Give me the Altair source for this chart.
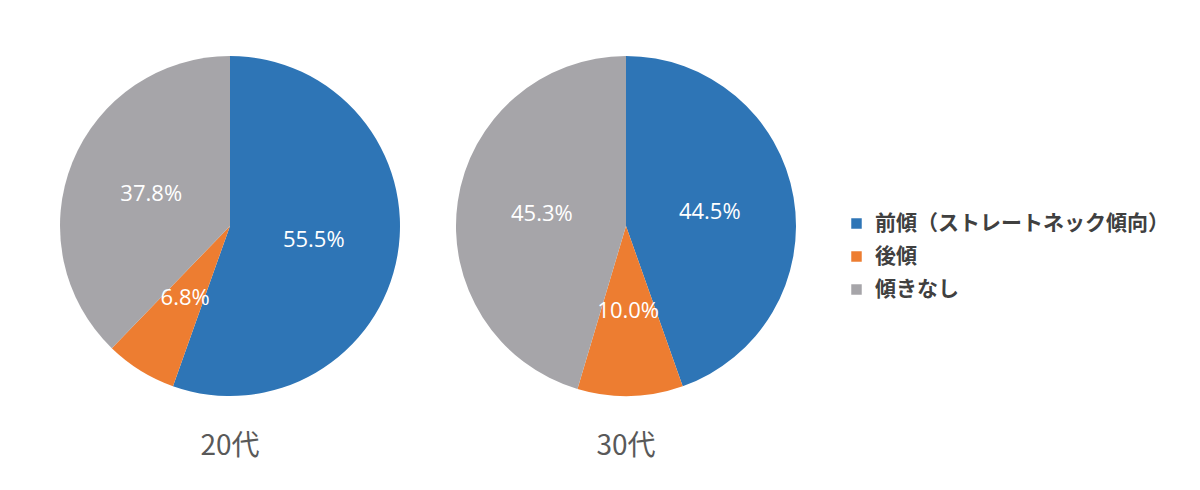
import altair as alt
import pandas as pd

groups = ["20代", "30代"]
categories = ["前傾（ストレートネック傾向）", "後傾", "傾きなし"]
values_20 = [55.5, 6.8, 37.8]
values_30 = [44.5, 10.0, 45.3]
colors = ["#2E75B6", "#ED7D31", "#A6A5A9"]
centers = [222, 618]

rows = []
for g, vals in zip(groups, [values_20, values_30]):
    for i, (c, v) in enumerate(zip(categories, vals)):
        rows.append({"group": g, "category": c, "value": v, "order": i, "label": f"{v:.1f}%"})
df = pd.DataFrame(rows)
titles = pd.DataFrame({"group": groups})

xscale = alt.Scale(type="point", domain=groups, range=centers, padding=0)
color = alt.Color(
    "category:N",
    scale=alt.Scale(domain=categories, range=colors),
    legend=alt.Legend(
        title=None, orient="none", legendX=838, legendY=205,
        symbolType="square", symbolSize=110, symbolStrokeWidth=0,
        labelFont="Noto Sans CJK JP", labelFontSize=21, labelFontWeight="bold",
        labelColor="#404040", labelOffset=8, rowPadding=11, labelLimit=400,
    ),
)

layers = []
for g in groups:
    sub = alt.Chart(df).transform_filter(alt.datum.group == g)
    arc = sub.mark_arc(outerRadius=170).encode(
        theta=alt.Theta("value:Q", stack="normalize"),
        color=color,
        order=alt.Order("order:Q"),
        x=alt.X("group:N", scale=xscale, axis=None),
        y=alt.value(218),
    )
    txt = sub.mark_text(radius=85, font="Open Sans", fontSize=22, color="white").encode(
        theta=alt.Theta("value:Q", stack="normalize"),
        order=alt.Order("order:Q"),
        text="label:N",
        x=alt.X("group:N", scale=xscale, axis=None),
        y=alt.value(218),
    )
    layers += [arc, txt]

title_layer = alt.Chart(titles).mark_text(
    font="Noto Sans CJK JP", fontSize=28, color="#595959", baseline="middle"
).encode(
    x=alt.X("group:N", scale=xscale, axis=None),
    y=alt.value(439),
    text="group:N",
)
layers.append(title_layer)

chart = alt.layer(*layers).properties(
    width=1184, height=474, autosize=alt.AutoSizeParams(type="none"), padding=0,
    background="white",
).configure_view(stroke=None)

chart.save("out.html", embed_options={"renderer": "svg", "actions": False})
